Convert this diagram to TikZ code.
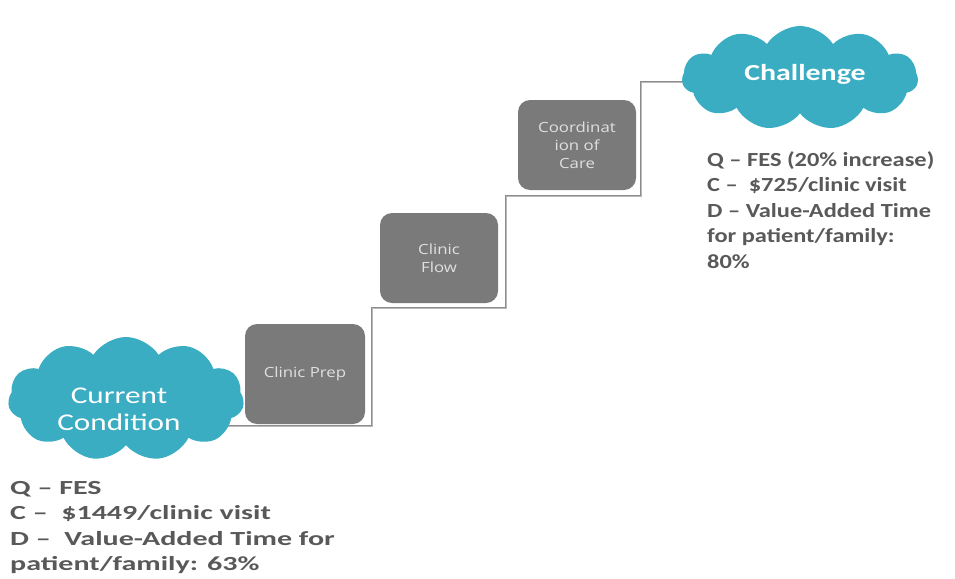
\documentclass[tikz,border=0pt]{standalone}
\usepackage{fontspec}
\setmainfont{Carlito}
\newfontfamily\boxfont[FakeStretch=1.2]{Open Sans}
\newfontfamily\infofont[FakeStretch=1.5,Ligatures=TeX]{Carlito}
\newfontfamily\infofontb[FakeStretch=1.22,Ligatures=TeX]{Carlito}
\newfontfamily\cloudfont[FakeStretch=1.3]{Carlito}
\usetikzlibrary{shapes.symbols,backgrounds}
\definecolor{cloudc}{HTML}{3AADC2}
\definecolor{boxc}{HTML}{7A7A7A}
\definecolor{txtc}{HTML}{595959}
\begin{document}
\begin{tikzpicture}[x=1pt,y=-1pt,
  cloudnode/.style={cloud, cloud puffs=11, cloud puff arc=115, fill=cloudc, draw=none, inner sep=0pt},
  cloudtext/.style={text=white, align=center, inner sep=0pt},
  stepbox/.style={fill=boxc, draw=none, rounded corners=12pt, text=white!88!black, align=center, font=\boxfont\fontsize{14}{18}\selectfont, minimum width=118pt, minimum height=90pt, inner sep=2pt},
  stair/.style={draw=gray!90, line width=0.9pt, double=gray!55, double distance=0.7pt},
  info/.style={anchor=north west, align=left, text=txtc, inner sep=0pt}]
\useasboundingbox (0,0) rectangle (955,578);
\node[cloudnode, aspect=1.9, minimum width=236pt, minimum height=124pt] (cur) at (126,399) {};
\node[cloudtext, font=\cloudfont\fontsize{24}{27}\selectfont] (curlabel) at (119,409) {Current\\Condition};
\node[cloudnode, aspect=2.2, minimum width=236pt, minimum height=104pt] (chal) at (800,78) {};
\node[cloudtext, font=\cloudfont\bfseries\fontsize{23}{27}\selectfont] (challabel) at (805,74) {Challenge};
\node[stepbox, minimum width=120pt, minimum height=100pt] (prep) at (305,374) {Clinic Prep};
\node[stepbox] (flow) at (439,258) {Clinic\\Flow};
\node[stepbox] (coord) at (577,145) {Coordinat\\ion of\\Care};
% stair line
\coordinate (s1) at (372,426);
\coordinate (s2) at (372,308);
\coordinate (s3) at (506,308);
\coordinate (s4) at (506,196);
\coordinate (s5) at (641,196);
\coordinate (s6) at (641,82);
\begin{scope}[on background layer]
\draw[stair] (cur.center |- s1) -- (s1) -- (s2) -- (s3) -- (s4) -- (s5) -- (s6) -- (chal.center |- s6);
\end{scope}
\node[info, font=\infofont\bfseries\fontsize{20}{25.5}\selectfont] (curtxt) at (10,481) {Q -- FES\\C --\ \ \$1449/clinic visit\\D --\ \ Value-Added Time for\\patient/family: 63\%};
\node[info, font=\infofontb\bfseries\fontsize{20}{25.5}\selectfont] (chaltxt) at (707,151) {Q -- FES (20\% increase)\\C --\ \ \$725/clinic visit\\D -- Value-Added Time\\for patient/family:\\80\%};
\end{tikzpicture}
\end{document}
